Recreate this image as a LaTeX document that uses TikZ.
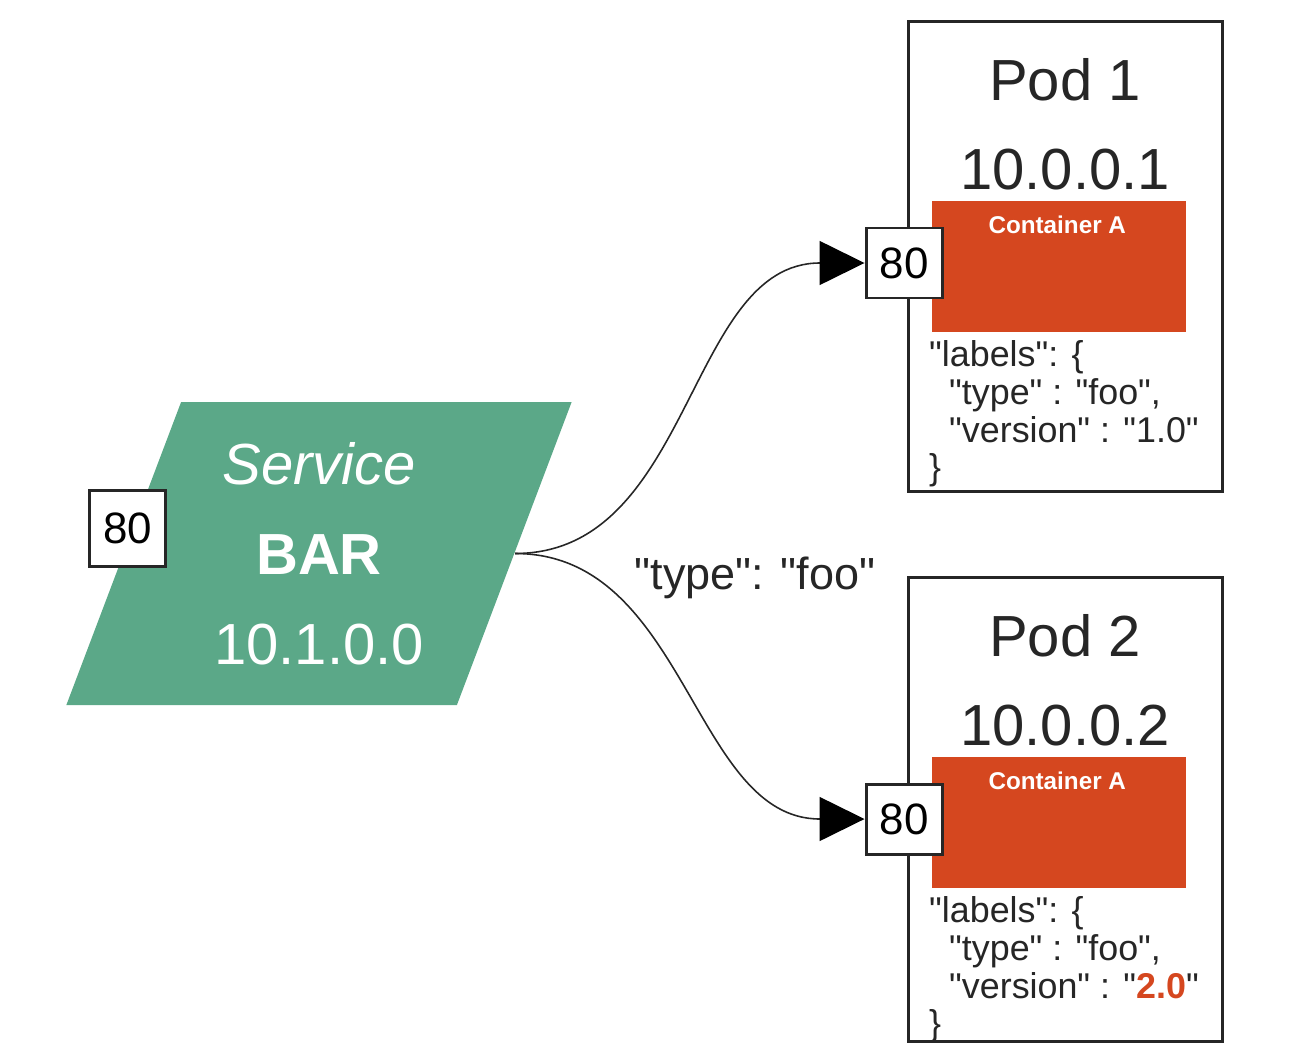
\documentclass[tikz,border=0pt]{standalone}
\usepackage{fontspec}
\setmainfont{Liberation Sans}[Ligatures=TeXOff]
\usetikzlibrary{arrows.meta,shapes.geometric}
\definecolor{svcgreen}{HTML}{5BA888}
\definecolor{ctrred}{HTML}{D5471F}

\begin{document}
\begin{tikzpicture}[>={Triangle[length=4.5mm,width=4.4mm,color=black]},
  pod/.style={draw=black!85, line width=0.85pt, minimum width=3.14cm, inner sep=0pt},
  ctr/.style={fill=ctrred, minimum width=2.54cm, minimum height=1.31cm, inner sep=0pt},
  port/.style={draw=black!85, fill=white, line width=0.85pt, minimum width=0.76cm, minimum height=0.70cm, inner sep=0pt, font=\fontsize{12.5}{14}\selectfont},
  big/.style={text=black!85, inner sep=0pt, font=\fontsize{16.5}{20}\selectfont},
  lbl/.style={align=left, inner sep=0pt, text=black!85, font=\fontsize{10.2}{10.8}\selectfont}]
\useasboundingbox (0,0) rectangle (13.03,-10.48);

% service
\node[trapezium, trapezium left angle=68.6, trapezium right angle=111.4, trapezium stretches=true,
  minimum width=5.06cm, minimum height=3.03cm, fill=svcgreen, text=white, align=center, inner sep=0pt,
  font=\fontsize{16.5}{25.6}\selectfont] (svc) at (3.19,-5.535) {\textit{Service}\\\textbf{BAR}\\10.1.0.0};
\node[port, minimum height=0.76cm] (svcport) at (1.275,-5.28) {80};

% pods
\foreach \i/\y/\h/\v in {1/0/4.70/1.0, 2/5.56/4.64/\textcolor{ctrred}{\textbf{2.0}}}
{
    \node[pod, minimum height=\h cm, anchor=north] (pod\i) at (10.65,-0.20-\y) {};
    \node[big] (name\i) at ([yshift=-0.60cm]pod\i.north) {Pod \i};
    \node[big] (ip\i) at ([yshift=-1.50cm]pod\i.north) {10.0.0.\i};
    \node[ctr, anchor=north west] (ctr\i) at ([xshift=0.25cm,yshift=-1.80cm]pod\i.north west) {};
    \node[text=white, inner sep=0pt, font=\bfseries\fontsize{6.9}{8}\selectfont] (ctrname\i) at ([xshift=-0.02cm,yshift=-0.25cm]ctr\i.north) {Container A};
    \node[lbl, anchor=north west] (lab\i) at ([xshift=-0.03cm,yshift=-0.07cm]ctr\i.south west)
        {"labels": \{\\\hspace*{0.2cm}"type" : "foo",\\\hspace*{0.2cm}"version" : "\v"\\\}};
    \node[port] (port\i) at (9.04,-2.63-\y) {80};
}

\draw[->, line width=0.45pt, black!85] (svc.east) to[out=0,in=180] (port1.west);
\draw[->, line width=0.45pt, black!85] (svc.east) to[out=0,in=180] (port2.west);
\node[text=black!85, inner sep=0pt, font=\fontsize{12.8}{14}\selectfont] (sel) at (7.55,-5.78) {"type": "foo"};
\end{tikzpicture}
\end{document}
